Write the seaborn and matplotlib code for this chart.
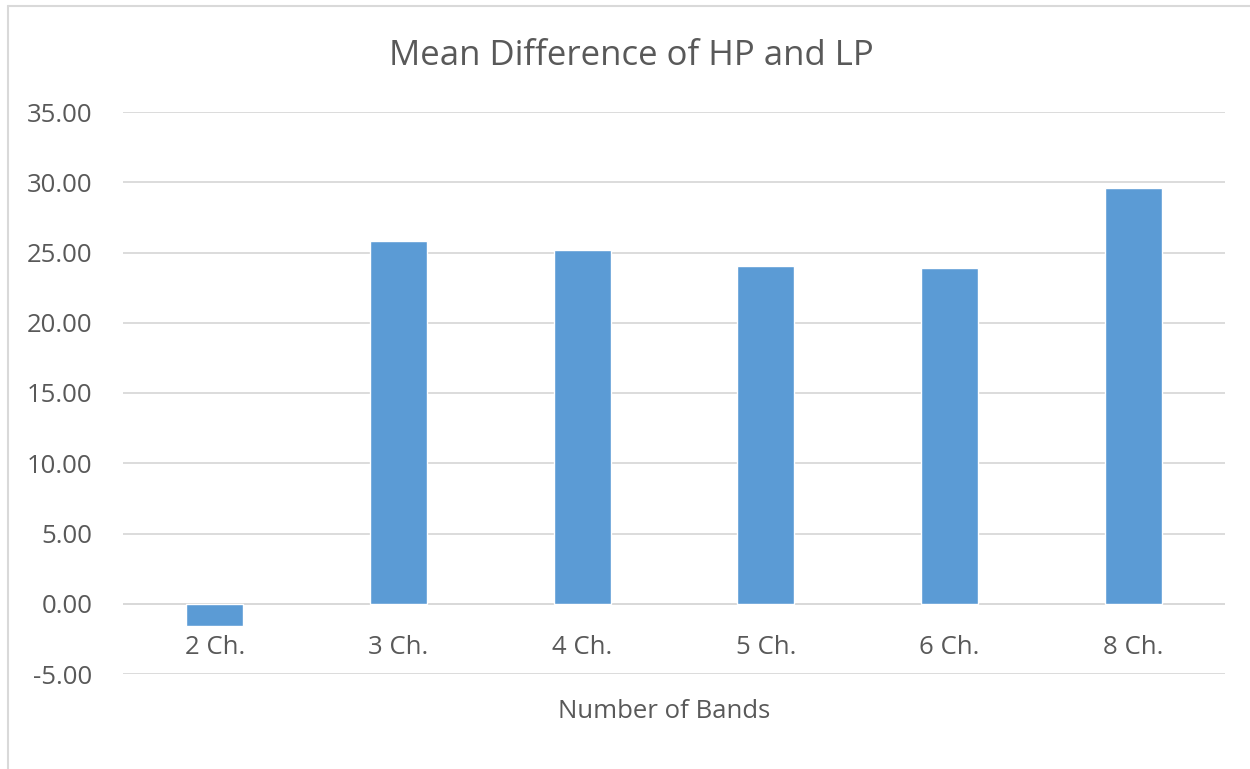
import matplotlib
matplotlib.use("Agg")
import matplotlib.pyplot as plt
import seaborn as sns
import pandas as pd
from matplotlib.lines import Line2D

categories = ["2 Ch.", "3 Ch.", "4 Ch.", "5 Ch.", "6 Ch.", "8 Ch."]
values = [-1.6, 25.85, 25.17, 24.03, 23.88, 29.58]
yticks = [-5, 0, 5, 10, 15, 20, 25, 30, 35]

df = pd.DataFrame({"band": categories, "diff": values})

sns.set_theme(style="white")
plt.rcParams['font.family'] = ['Open Sans', 'DejaVu Sans']

fig = plt.figure(figsize=(12.5, 7.69), dpi=100)
ax = fig.add_axes([123/1250, 1 - 674/769, (1225 - 123)/1250, (674 - 112)/769])

sns.barplot(data=df, x="band", y="diff", color="#5B9BD5", saturation=1,
            width=0.31, ax=ax, zorder=3)

ax.set_ylim(-5, 35)
ax.set_yticks(yticks)
ax.set_yticklabels([f"{t:.2f}" for t in yticks])
ax.yaxis.grid(True, color="#D9D9D9", linewidth=1.3, zorder=0)
ax.set_axisbelow(True)
for s in ax.spines.values():
    s.set_visible(False)
ax.axhline(0, color="#D9D9D9", linewidth=1.3, zorder=2)
ax.tick_params(axis="both", length=0, colors="#595959", labelsize=18.5)
ax.tick_params(axis="y", pad=22)
ax.tick_params(axis="x", pad=-28)

ax.set_xlabel("Number of Bands", fontsize=18.5, color="#595959", labelpad=0)
ax.xaxis.set_label_coords((664 - 123) / (1225 - 123), -(711 - 674) / (674 - 112))
ax.xaxis.label.set_va("center")
ax.set_ylabel("")

fig.text(631/1250, 1 - 56/769, "Mean Difference of HP and LP", ha="center",
         va="center", fontsize=25, color="#595959")

# chart border (top and left visible)
fig.add_artist(Line2D([8/1250, 8/1250], [0, 1 - 6/769], transform=fig.transFigure,
                      color="#D9D9D9", linewidth=1.5))
fig.add_artist(Line2D([8/1250, 1], [1 - 6/769, 1 - 6/769], transform=fig.transFigure,
                      color="#D9D9D9", linewidth=1.5))

fig.savefig("out.png", dpi=100)
